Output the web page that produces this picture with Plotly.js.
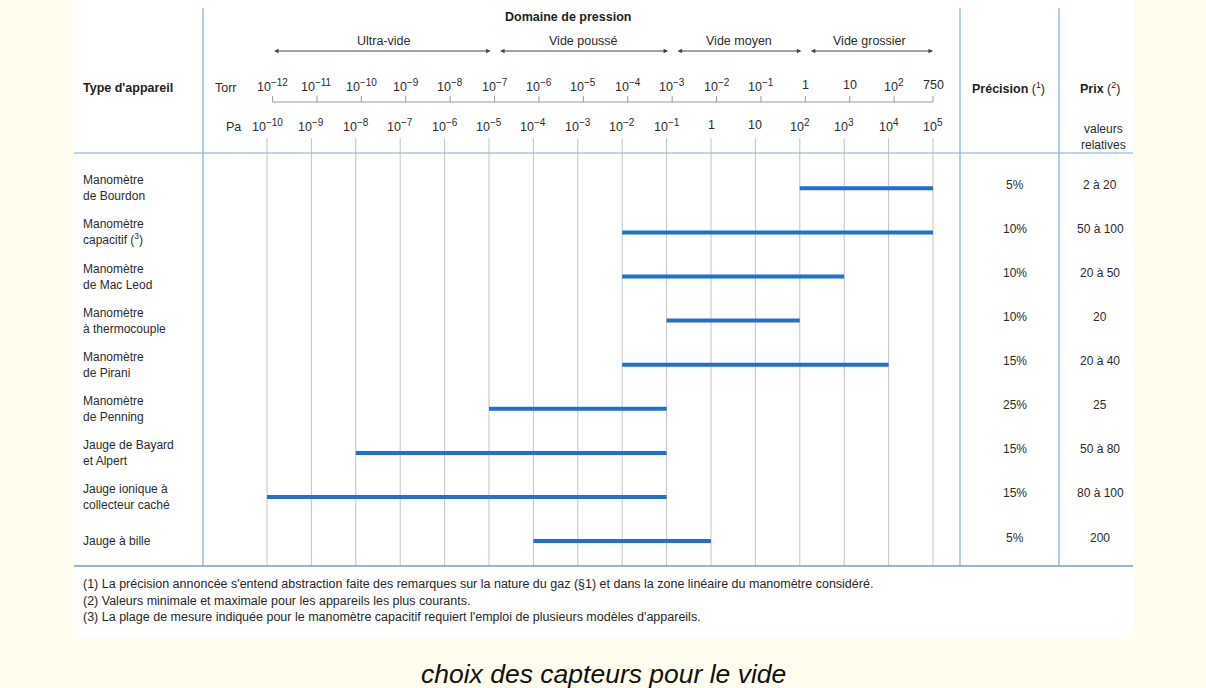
<!DOCTYPE html>
<html>
<head>
<meta charset="utf-8">
<script src="https://cdn.plot.ly/plotly-3.0.1.min.js"></script>
<style>
html,body{margin:0;padding:0;background:#fffdee;}
#chart{width:1206px;height:688px;}
</style>
</head>
<body>
<div id="chart"></div>
<script>
// ---------- DATA ----------
const devices = [
  "Manomètre<br>de Bourdon",
  "Manomètre<br>capacitif (<sup>3</sup>)",
  "Manomètre<br>de Mac Leod",
  "Manomètre<br>à thermocouple",
  "Manomètre<br>de Pirani",
  "Manomètre<br>de Penning",
  "Jauge de Bayard<br>et Alpert",
  "Jauge ionique à<br>collecteur caché",
  "Jauge à bille"
];
const paMin = [1e2, 1e-2, 1e-2, 1e-1, 1e-2, 1e-5, 1e-8, 1e-10, 1e-4];
const paMax = [1e5, 1e5, 1e3, 1e2, 1e4, 1e-1, 1e-1, 1e-1, 1];
const precision = ["5%", "10%", "10%", "10%", "15%", "25%", "15%", "15%", "5%"];
const prix = ["2 à 20", "50 à 100", "20 à 50", "20", "20 à 40", "25", "50 à 80", "80 à 100", "200"];

const paTicks = [1e-10,1e-9,1e-8,1e-7,1e-6,1e-5,1e-4,1e-3,1e-2,1e-1,1,10,1e2,1e3,1e4,1e5];
const torrTicks = [1e-12,1e-11,1e-10,1e-9,1e-8,1e-7,1e-6,1e-5,1e-4,1e-3,1e-2,1e-1,1,10,1e2,750];
const PA_PER_TORR = 133.32;

const domainNames = ["Ultra-vide", "Vide poussé", "Vide moyen", "Vide grossier"];
const domainTorrMin = [1e-12, 1e-7, 1e-3, 1];
const domainTorrMax = [1e-7, 1e-3, 1, 750];

const footnotes = [
  "(1) La précision annoncée s'entend abstraction faite des remarques sur la nature du gaz (§1) et dans la zone linéaire du manomètre considéré.",
  "(2) Valeurs minimale et maximale pour les appareils les plus courants.",
  "(3) La plage de mesure indiquée pour le manomètre capacitif requiert l'emploi de plusieurs modèles d'appareils."
];
const caption = "choix des capteurs pour le vide";

// ---------- LAYOUT HELPERS ----------
const W = 1206, H = 688;
const px = x => x / W;
const py = y => 1 - y / H;
const lg = v => Math.log10(v);
const torrPos = t => Math.log10(t * PA_PER_TORR);
const FONT = "Liberation Sans, Arial, sans-serif";
const TXT = "#2b2b2b";
const BLUE_LINE = "#7fb0d8";

function powLabel(v) {
  const e = Math.round(Math.log10(v));
  if (Math.abs(v - Math.pow(10, e)) > 1e-9 * Math.pow(10, e)) return String(v);
  if (e === 0) return "1";
  if (e === 1) return "10";
  return "10<sup><span style='font-size:10px'>" + (e < 0 ? "−" + (-e) : e) + "</span></sup>";
}

// ---------- TRACES ----------
const traces = devices.map((d, i) => ({
  type: "scatter", mode: "lines",
  x: [lg(paMin[i]), lg(paMax[i])],
  y: [i, i],
  line: {color: "#1f6fd6", width: 4},
  hoverinfo: "skip", showlegend: false
}));

// ---------- SHAPES ----------
const shapes = [];
shapes.push({type:"rect", xref:"paper", yref:"paper", x0:px(73), x1:px(1133), y0:py(638), y1:1.0,
  fillcolor:"#ffffff", line:{width:0}, layer:"below"});
paTicks.forEach(v => shapes.push({type:"line", xref:"x", yref:"paper", x0:lg(v), x1:lg(v),
  y0:py(138), y1:py(566), line:{color:"#c4c4c4", width:1}, layer:"below"}));
shapes.push({type:"line", xref:"x", yref:"paper", x0:torrPos(torrTicks[0]), x1:torrPos(torrTicks[torrTicks.length-1]),
  y0:py(102), y1:py(102), line:{color:"#9a9a9a", width:1}});
torrTicks.forEach(t => shapes.push({type:"line", xref:"x", yref:"paper", x0:torrPos(t), x1:torrPos(t),
  y0:py(96), y1:py(102), line:{color:"#9a9a9a", width:1}}));
shapes.push({type:"line", xref:"paper", yref:"paper", x0:px(203), x1:px(203), y0:py(8), y1:py(566), line:{color:BLUE_LINE, width:1.2}});
shapes.push({type:"line", xref:"paper", yref:"paper", x0:px(960), x1:px(960), y0:py(8), y1:py(566), line:{color:BLUE_LINE, width:1.2}});
shapes.push({type:"line", xref:"paper", yref:"paper", x0:px(1059), x1:px(1059), y0:py(8), y1:py(566), line:{color:BLUE_LINE, width:1.2}});
shapes.push({type:"line", xref:"paper", yref:"paper", x0:px(74), x1:px(1133), y0:py(153), y1:py(153), line:{color:BLUE_LINE, width:1.2}});
shapes.push({type:"line", xref:"paper", yref:"paper", x0:px(74), x1:px(1133), y0:py(566), y1:py(566), line:{color:"#7f9fb8", width:1.6}});

// ---------- ANNOTATIONS ----------
const ann = [];
const txt = (x, y, text, opts) => Object.assign({
  xref:"paper", yref:"paper", x:px(x), y:py(y), text:text, showarrow:false,
  xanchor:"center", yanchor:"middle", font:{family:FONT, size:12, color:TXT}
}, opts || {});

ann.push(txt(568, 17, "<b>Domaine de pression</b>", {font:{family:FONT, size:12.5, color:"#1e1e1e"}}));
ann.push(txt(81, 88, "<b>Type d'appareil</b>", {xanchor:"left", font:{family:FONT, size:12.5, color:"#1e1e1e"}}));
ann.push(txt(1008, 88, "<b>Précision</b> (<sup>1</sup>)", {font:{family:FONT, size:12.5, color:"#1e1e1e"}}));
ann.push(txt(1100, 88, "<b>Prix</b> (<sup>2</sup>)", {font:{family:FONT, size:12.5, color:"#1e1e1e"}}));
ann.push(txt(1103, 137, "valeurs<br>relatives", {font:{family:FONT, size:12, color:TXT}}));
ann.push(txt(226, 88, "Torr", {font:{family:FONT, size:12.5, color:TXT}}));
ann.push(txt(233, 127, "Pa", {font:{family:FONT, size:12.5, color:TXT}}));

paTicks.forEach(v => ann.push({xref:"x", yref:"paper", x:lg(v), y:py(125), text:powLabel(v), showarrow:false,
  xanchor:"center", yanchor:"middle", font:{family:FONT, size:12.5, color:TXT}}));
torrTicks.forEach(t => ann.push({xref:"x", yref:"paper", x:torrPos(t), y:py(85), text:powLabel(t), showarrow:false,
  xanchor:"center", yanchor:"middle", font:{family:FONT, size:12.5, color:TXT}}));

domainNames.forEach((n, i) => {
  const a = torrPos(domainTorrMin[i]), b = torrPos(domainTorrMax[i]);
  ann.push({xref:"x", yref:"paper", x:b, y:py(51), axref:"x", ax:a, ayref:"pixel", ay:0,
    text:"", showarrow:true, arrowside:"end+start", arrowhead:2, startarrowhead:2,
    arrowsize:0.9, startarrowsize:0.9, arrowwidth:1, arrowcolor:"#444",
    standoff:(i < domainNames.length - 1 ? 4 : 0), startstandoff:(i > 0 ? 4 : 0)});
  ann.push({xref:"x", yref:"paper", x:(a + b) / 2, y:py(41), text:n, showarrow:false,
    xanchor:"center", yanchor:"middle", font:{family:FONT, size:12.5, color:TXT}});
});

devices.forEach((d, i) => {
  ann.push({xref:"paper", yref:"y", x:px(81), y:i, text:d, showarrow:false, xanchor:"left", yanchor:"middle",
    align:"left", font:{family:FONT, size:12, color:TXT}});
  ann.push({xref:"paper", yref:"y", x:px(1015), y:i - 0.08, text:precision[i], showarrow:false, xanchor:"center",
    yanchor:"middle", font:{family:FONT, size:12, color:TXT}});
  ann.push({xref:"paper", yref:"y", x:px(1100), y:i - 0.08, text:prix[i], showarrow:false, xanchor:"center",
    yanchor:"middle", font:{family:FONT, size:12, color:TXT}});
});

footnotes.forEach((f, i) => ann.push(txt(81, 584 + i * 16.5, f, {xanchor:"left", font:{family:FONT, size:12.5, color:"#262626"}})));

ann.push(txt(603, 674, "<i>" + caption + "</i>", {font:{family:FONT, size:26.5, color:"#111"}}));

// ---------- LAYOUT ----------
const x0 = -10 - 267 / 44.4, x1 = -10 + (W - 267) / 44.4;
const rowTop = -188.3 / 44.1, rowBottom = (H - 188.3) / 44.1;
const layout = {
  width: W, height: H,
  margin: {l:0, r:0, t:0, b:0, pad:0},
  paper_bgcolor: "#fffdee",
  plot_bgcolor: "rgba(0,0,0,0)",
  xaxis: {type:"linear", range:[x0, x1], visible:false, fixedrange:true},
  yaxis: {type:"linear", range:[rowBottom, rowTop], visible:false, fixedrange:true},
  shapes: shapes,
  annotations: ann,
  showlegend: false,
  hovermode: false
};
Plotly.newPlot("chart", traces, layout, {staticPlot:true, displayModeBar:false});
</script>
</body>
</html>
